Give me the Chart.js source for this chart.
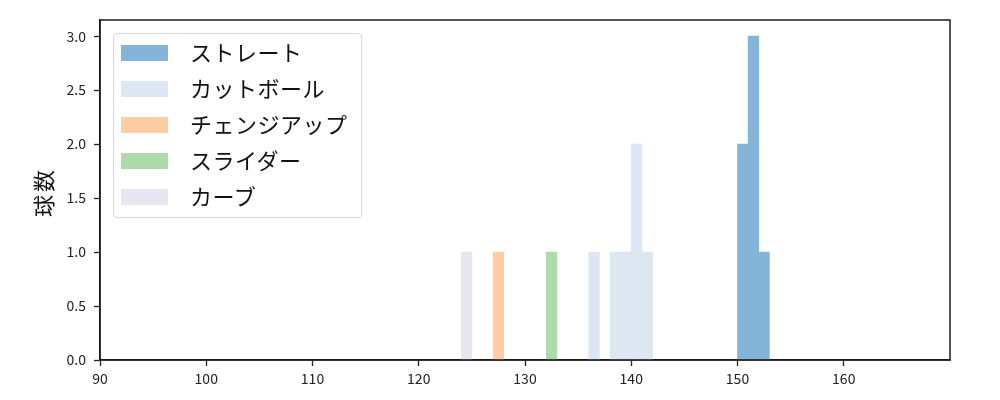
<!DOCTYPE html>
<html>
<head>
<meta charset="utf-8">
<script src="https://cdn.jsdelivr.net/npm/chart.js@4/dist/chart.umd.min.js"></script>
<style>
  html, body { margin: 0; padding: 0; background: #fff; }
  #wrap { position: relative; width: 1000px; height: 400px; }
  #legend {
    position: absolute; left: 113px; top: 33px; width: 247px; height: 183px;
    border: 1px solid #d6d6d6; border-radius: 4px; background: rgba(255,255,255,0.8);
    font-family: "Noto Sans CJK JP", sans-serif; font-size: 22px; color: #111;
  }
  .row { position: absolute; left: 0; height: 36px; width: 100%; }
  .sw { position: absolute; left: 7px; top: 10px; width: 47px; height: 16px; }
  .lbl { position: absolute; left: 76px; top: -2px; line-height: 36px; white-space: nowrap; letter-spacing: 0.5px; }
  #ylabel {
    position: absolute; left: 42px; top: 192px;
    transform: translate(-50%, -50%) rotate(-90deg);
    font-family: "Noto Sans CJK JP", sans-serif; font-size: 22px; letter-spacing: 3px;
    color: #111; white-space: nowrap;
  }
</style>
</head>
<body>
<div id="wrap">
  <canvas id="c" width="1000" height="400"></canvas>
  <div id="legend"></div>
  <div id="ylabel">球数</div>
</div>
<script>
// ---- data (bin centers, 1 km/h bins) ----
const seriesNames = ["ストレート", "カットボール", "チェンジアップ", "スライダー", "カーブ"];
const straightX = [150.5, 151.5, 152.5];
const straightY = [2, 3, 1];
const cutX = [136.5, 138.5, 139.5, 140.5, 141.5];
const cutY = [1, 1, 1, 2, 1];
const changeX = [127.5];
const changeY = [1];
const sliderX = [132.5];
const sliderY = [1];
const curveX = [124.5];
const curveY = [1];
const xTicks = [90, 100, 110, 120, 130, 140, 150, 160];
const yTicks = [0, 0.5, 1.0, 1.5, 2.0, 2.5, 3.0];

const colors = ["rgb(132,180,216)", "rgb(220,231,243)", "rgb(253,205,164)", "rgb(173,219,172)", "rgb(231,231,241)"];
const xs = [straightX, cutX, changeX, sliderX, curveX];
const ys = [straightY, cutY, changeY, sliderY, curveY];

const datasets = seriesNames.map((name, i) => ({
  label: name,
  data: xs[i].map((x, j) => ({ x: x, y: ys[i][j] })),
  backgroundColor: colors[i],
  borderWidth: 0,
  barPercentage: 1.0,
  categoryPercentage: 1.0,
  grouped: false
}));

const tickFont = { family: "'Noto Sans CJK JP', 'Noto Sans', sans-serif", size: 14 };

const boxPlugin = {
  id: 'box',
  afterDraw(chart) {
    const { ctx, chartArea: a } = chart;
    ctx.save();
    ctx.strokeStyle = '#1a1a1a';
    ctx.lineWidth = 1.5;
    ctx.strokeRect(a.left, a.top, a.right - a.left, a.bottom - a.top);
    ctx.restore();
  }
};

new Chart(document.getElementById('c'), {
  type: 'bar',
  data: { datasets: datasets },
  options: {
    responsive: false,
    animation: false,
    devicePixelRatio: 1,
    layout: { padding: { left: 0, right: 50, top: 20, bottom: 0 } },
    plugins: { legend: { display: false }, tooltip: { enabled: false } },
    scales: {
      x: {
        type: 'linear',
        min: 90, max: 170,
        offset: false,
        afterBuildTicks(scale) { scale.ticks = xTicks.map(v => ({ value: v })); },
        afterFit(scale) { scale.height = 40; },
        ticks: { color: '#222', font: tickFont, padding: 4, maxRotation: 0, autoSkip: false,
                 callback: v => String(v) },
        grid: { display: true, offset: false, drawOnChartArea: false, drawTicks: true, tickLength: 6, color: '#222', tickWidth: 1.3 },
        border: { display: true, color: '#1a1a1a', width: 1.5 }
      },
      y: {
        type: 'linear',
        min: 0, max: 3.15,
        afterBuildTicks(scale) { scale.ticks = yTicks.map(v => ({ value: v })); },
        afterFit(scale) { scale.width = 100; },
        ticks: { color: '#222', font: tickFont, padding: 8, autoSkip: false,
                 callback: v => Number(v).toFixed(1) },
        grid: { display: true, drawOnChartArea: false, drawTicks: true, tickLength: 6, color: '#222', tickWidth: 1.3 },
        border: { display: true, color: '#1a1a1a', width: 1.5 }
      }
    }
  },
  plugins: [boxPlugin]
});

// HTML legend built from the series arrays
const legend = document.getElementById('legend');
seriesNames.forEach((name, i) => {
  const row = document.createElement('div');
  row.className = 'row';
  row.style.top = (1 + i * 36) + 'px';
  const sw = document.createElement('div');
  sw.className = 'sw';
  sw.style.background = colors[i];
  const lbl = document.createElement('div');
  lbl.className = 'lbl';
  lbl.textContent = name;
  row.appendChild(sw);
  row.appendChild(lbl);
  legend.appendChild(row);
});
</script>
</body>
</html>
